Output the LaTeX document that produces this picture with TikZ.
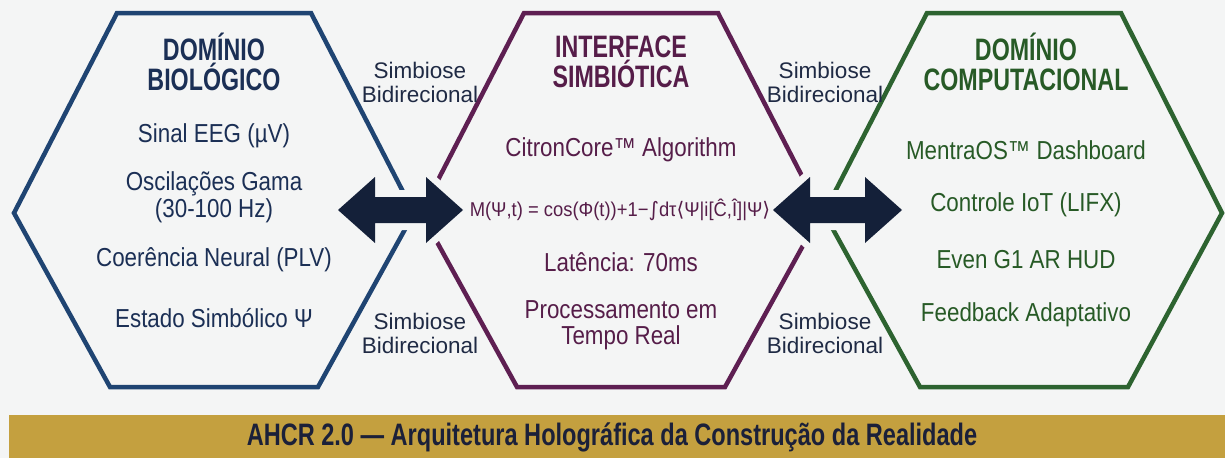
\documentclass[tikz,border=0pt]{standalone}
\usepackage{fontspec}
\setmainfont{Liberation Sans}
\newfontfamily\bodyfont[FakeStretch=0.86]{Liberation Sans}
\newfontfamily\formfont[FakeStretch=0.92]{Liberation Sans}
\newfontfamily\titlefont[FakeStretch=0.75]{Liberation Sans}
\newfontfamily\bandfont[FakeStretch=0.76]{Liberation Sans}
\newfontfamily\symfont{DejaVu Sans}
\usetikzlibrary{calc}

\definecolor{bgcol}{HTML}{F4F5F5}
\definecolor{biocol}{HTML}{1F4472}
\definecolor{biotext}{HTML}{1B2F55}
\definecolor{intcol}{HTML}{5E1F52}
\definecolor{inttext}{HTML}{561D49}
\definecolor{compcol}{HTML}{2D6330}
\definecolor{comptext}{HTML}{275A26}
\definecolor{arrowcol}{HTML}{142039}
\definecolor{bandcol}{HTML}{C4A03F}
\definecolor{bandtext}{HTML}{1B2039}
\definecolor{simbtext}{HTML}{1F2A44}

\tikzset{
  hexline/.style={line width=4.5pt, line join=miter},
  domtitle/.style={font=\titlefont\bfseries\fontsize{31}{30}\selectfont, align=center},
  item/.style={font=\bodyfont\fontsize{26}{27}\selectfont, align=center},
  simb/.style={font=\fontsize{22.5}{24}\selectfont, align=center, text=simbtext},
  biarrow/.style={fill=arrowcol, preaction={draw=bgcol, line width=14pt, line join=round}},
  bandtitle/.style={font=\bandfont\bfseries\fontsize{31}{31}\selectfont, text=bandtext}
}

\begin{document}
\begin{tikzpicture}[x=1pt, y=-1pt]

    \fill[bgcol] (0,0) rectangle (1225,458);

    \draw[hexline, draw=biocol] (117,13) -- (311,13) -- (414,213) -- (318,387) -- (110,387) -- (14,213) -- cycle;

    \begin{scope}[xshift=621]

      \draw[hexline, draw=intcol] (-97,13) -- (97,13) -- (200,213) -- (104,387) -- (-104,387) -- (-200,213) -- cycle;

    \end{scope}



    \begin{scope}[xshift=1024]

      \draw[hexline, draw=compcol] (-97,13) -- (97,13) -- (198,213) -- (104,387) -- (-104,387) -- (-200,213) -- cycle;

    \end{scope}



    \coordinate (bioE) at (338,210);
    \coordinate (intW) at (463,210);
    \coordinate (intE) at (773,210);
    \coordinate (compW) at (902,210);

    \path[biarrow] let \p1=(bioE), \p2=(intW), \n1={\x2-\x1-74pt} in
      (\p1) -- ++(37,-33) -- ++(0,20) -- ++(\n1,0) -- ++(0,-20) -- (\p2)
      -- ++(-37,33) -- ++(0,-20) -- ++({-\n1},0) -- ++(0,20) -- cycle;

    \path[biarrow] let \p1=(intE), \p2=(compW), \n1={\x2-\x1-74pt} in
      (\p1) -- ++(37,-33) -- ++(0,20) -- ++(\n1,0) -- ++(0,-20) -- (\p2)
      -- ++(-37,33) -- ++(0,-20) -- ++({-\n1},0) -- ++(0,20) -- cycle;



    \begin{scope}[xshift=214]

      \node[domtitle, text=biotext] (biotitle) at (0,62) {DOMÍNIO\\BIOLÓGICO};
      \node[item, text=biotext] (eeg) at (0,136) {Sinal EEG (µV)};
      \node[item, text=biotext] (gama) at (0,197) {Oscilações Gama\\(30-100 Hz)};
      \node[item, text=biotext] (plv) at (0,260) {Coerência Neural (PLV)};
      \node[item, text=biotext] (psi) at (0,318) {Estado Simbólico Ψ};

    \end{scope}



    \begin{scope}[xshift=621]

      \node[domtitle, text=inttext] (inttitle) at (0,62) {INTERFACE\\SIMBIÓTICA};
      \node[item, text=inttext] (citron) at (0,150) {CitronCore™ Algorithm};
      \node[font=\formfont\fontsize{20}{22}\selectfont, text=inttext] (formula) at (-1,210)
        {M(Ψ,t) = cos(Φ(t))+1−{\symfont ∫}dτ{\symfont ⟨}Ψ|i[Ĉ,Î]|Ψ{\symfont ⟩}};
      \node[item, text=inttext] (latency) at (0,262) {Latência: 70ms};
      \node[item, font=\bodyfont\fontsize{26}{26}\selectfont, text=inttext] (realtime) at (0,325) {Processamento em\\Tempo Real};

    \end{scope}



    \begin{scope}[xshift=1024]

      \node[domtitle, text=comptext] (comptitle) at (2,62) {DOMÍNIO\\COMPUTACIONAL};
      \node[item, text=comptext] (mentra) at (2,150) {MentraOS™ Dashboard};
      \node[item, text=comptext] (iot) at (2,205) {Controle IoT (LIFX)};
      \node[item, text=comptext] (hud) at (2,260) {Even G1 AR HUD};
      \node[item, text=comptext] (adapt) at (2,315) {Feedback Adaptativo};

    \end{scope}



    \node[simb] (simbTL) at (420,82) {Simbiose\\Bidirecional};
    \node[simb] (simbBL) at (420,333) {Simbiose\\Bidirecional};
    \node[simb] (simbTR) at (825,82) {Simbiose\\Bidirecional};
    \node[simb] (simbBR) at (825,333) {Simbiose\\Bidirecional};



    \fill[bandcol] (9,415) rectangle (1225,458);

    \node[bandtitle] (band) at (612,437) {AHCR 2.0 — Arquitetura Holográfica da Construção da Realidade};

  \end{tikzpicture}
\end{document}
